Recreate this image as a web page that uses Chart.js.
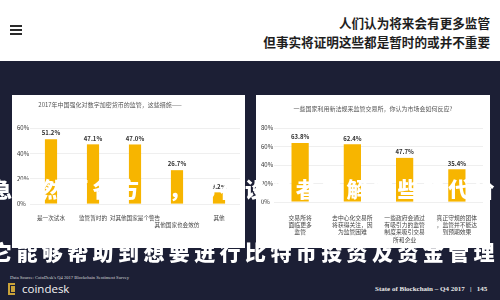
<!DOCTYPE html>
<html>
<head>
<meta charset="utf-8">
<script src="https://cdn.jsdelivr.net/npm/chart.js@4/dist/chart.umd.min.js"></script>
<style>
  html,body{margin:0;padding:0;}
  body{width:500px;height:300px;overflow:hidden;background:#1c1f35;position:relative;font-family:"Noto Sans CJK SC","Noto Sans",sans-serif;}
  #header{position:absolute;left:0;top:0;width:500px;height:61px;background:#fff;}
  .hb{position:absolute;left:10px;width:12px;height:2px;background:#2a2a2a;}
  .htxt{position:absolute;right:10px;font-size:12.6px;font-weight:700;color:#1e1e1e;white-space:nowrap;line-height:1;}
  .panel{position:absolute;top:95px;height:153px;background:#fff;}
  .ptitle{position:absolute;font-size:6px;color:#555;white-space:nowrap;line-height:1;transform:translateX(-50%);}
  canvas{position:absolute;left:0;top:0;}
  .over{position:absolute;left:-9px;font-size:21px;font-weight:900;color:#fff;white-space:nowrap;line-height:1;z-index:5;letter-spacing:4.4px;}
  #src{position:absolute;left:10px;top:275px;font-family:"Liberation Serif",serif;font-size:4.6px;color:#d8d8d8;white-space:nowrap;}
  #logo{position:absolute;left:8px;top:283px;width:7px;height:12px;border:2px solid #c9a23a;border-right:none;box-sizing:border-box;}
  #logo2{position:absolute;left:11px;top:286px;width:4px;height:6px;background:#c9a23a;}
  #cd{position:absolute;left:22px;top:283px;font-family:"Open Sans",sans-serif;font-size:11.5px;color:#f2f2f2;line-height:1;}
  #foot{position:absolute;left:375px;top:286px;font-family:"Liberation Serif",serif;font-weight:700;font-size:7px;color:#e8e8e8;white-space:nowrap;line-height:1;}
</style>
</head>
<body>
<div id="header">
  <div class="hb" style="top:25px"></div>
  <div class="hb" style="top:29px"></div>
  <div class="hb" style="top:33px"></div>
  <div class="htxt" style="top:17px">人们认为将来会有更多监管</div>
  <div class="htxt" style="top:36px">但事实将证明这些都是暂时的或并不重要</div>
</div>

<div class="panel" style="left:12px;width:233px;">
  <canvas id="c1" width="233" height="153"></canvas>
</div>
<div class="ptitle" style="left:110px;top:102px;z-index:2">2017年中国强化对数字加密货币的监管，这些措施——</div>

<div class="panel" style="left:256px;width:234px;">
  <canvas id="c2" width="234" height="153"></canvas>
</div>
<div class="ptitle" style="left:373px;top:106px;z-index:2">一些国家利用新法规来监管交易所，你认为市场会如何反应?</div>

<div class="over" style="top:178px">急需然而各方面，都在设法者了解这些的代价</div>
<div class="over" style="top:241px">它能够帮助到想要进行比特币投资及资金管理</div>

<div id="src">Data Source: CoinDesk's Q4 2017 Blockchain Sentiment Survey</div>
<div id="logo"></div><div id="logo2"></div>
<div id="cd">coindesk</div>
<div id="foot">State of Blockchain – Q4 2017 &nbsp;&nbsp;|&nbsp;&nbsp; 145</div>

<script>
// ---- data ----
const categoriesLeft = ["是一次试水", "监管暂时的", "对其他国家是个警告", ["", "其他国家也会效仿"], "其他"];
const valuesLeft = [51.2, 47.1, 47.0, 26.7, 9.2];
const ticksLeft = [0, 20, 40, 60];

const categoriesRight = [
  ["交易所将", "面临更多", "监管"],
  ["去中心化交易所", "将获得关注，因", "为监管困难"],
  ["一些政府会通过", "有吸引力的监管", "制度来吸引交易", "所和企业"],
  ["真正守规的团体", "，监管并不能达", "到预期效果"]
];
const valuesRight = [63.8, 62.4, 47.7, 35.4];
const ticksRight = [0, 20, 40, 60, 80];

const BAR = "#f7b500";
const FONT = "'Noto Sans CJK SC','Noto Sans',sans-serif";

const valueLabels = {
  id: "valueLabels",
  afterDatasetsDraw(chart) {
    const ctx = chart.ctx;
    const meta = chart.getDatasetMeta(0);
    const data = chart.data.datasets[0].data;
    ctx.save();
    ctx.font = "bold 6px " + FONT;
    ctx.fillStyle = "#333";
    ctx.textAlign = "center";
    ctx.textBaseline = "bottom";
    meta.data.forEach((el, i) => {
      ctx.fillText(data[i].toFixed(1) + "%", el.x, el.y - 3);
    });
    ctx.restore();
  }
};

function makeChart(id, labels, values, ticks, opt) {
  new Chart(document.getElementById(id), {
    type: "bar",
    data: {
      labels: labels,
      datasets: [{ data: values, backgroundColor: BAR, borderWidth: 0,
        barPercentage: opt.barPct, categoryPercentage: 1 }]
    },
    options: {
      responsive: false,
      animation: false,
      devicePixelRatio: 1,
      layout: { padding: { left: 5, right: opt.padR, top: 33, bottom: 0 } },
      plugins: { legend: { display: false }, tooltip: { enabled: false }, title: { display: false } },
      scales: {
        x: {
          grid: { display: false },
          border: { display: false },
          ticks: { autoSkip: false, maxRotation: 0, minRotation: 0, color: "#444",
            padding: opt.xPad, font: { size: opt.xFont, family: FONT, lineHeight: 1.25 } },
          afterFit(s) { s.height = opt.xH; }
        },
        y: {
          min: 0, max: ticks[ticks.length - 1],
          afterBuildTicks(s) { s.ticks = ticks.map(v => ({ value: v })); },
          grid: { color: "#ebebeb", lineWidth: 0.8, drawTicks: false },
          border: { display: false },
          ticks: { color: "#333", padding: 0, crossAlign: "far",
            font: { size: 6, family: FONT },
            callback: v => v + "%" },
          afterFit(s) { s.width = 13; }
        }
      }
    },
    plugins: [valueLabels]
  });
}

makeChart("c1", categoriesLeft, valuesLeft, ticksLeft, { barPct: 0.29, padR: 5, xPad: 2, xFont: 5.6, xH: 44 });
makeChart("c2", categoriesRight, valuesRight, ticksRight, { barPct: 0.33, padR: 7, xPad: 4, xFont: 5.8, xH: 46 });
</script>
</body>
</html>
